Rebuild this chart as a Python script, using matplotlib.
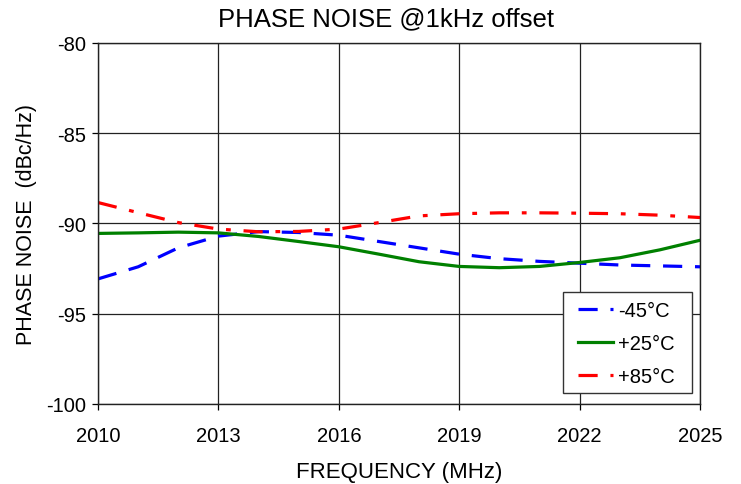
import matplotlib
matplotlib.use("Agg")
import matplotlib.pyplot as plt
from matplotlib.patches import Rectangle

plt.rcParams['font.family'] = ['Liberation Sans', 'DejaVu Sans']
plt.rcParams['axes.unicode_minus'] = False

freq = [2010, 2011, 2012, 2013, 2014, 2015, 2016, 2017, 2018, 2019, 2020, 2021, 2022, 2023, 2024, 2025]
pn_m45 = [-93.07, -92.4, -91.35, -90.7, -90.45, -90.5, -90.65, -91.0, -91.35, -91.7, -91.95, -92.1, -92.2, -92.3, -92.35, -92.4]
pn_p25 = [-90.55, -90.52, -90.48, -90.52, -90.72, -91.0, -91.29, -91.7, -92.12, -92.38, -92.45, -92.38, -92.16, -91.9, -91.46, -90.93]
pn_p85 = [-88.84, -89.4, -89.95, -90.31, -90.46, -90.44, -90.31, -89.95, -89.58, -89.46, -89.41, -89.41, -89.43, -89.46, -89.54, -89.67]
labels = ['-45°C', '+25°C', '+85°C']
xticks = [2010, 2013, 2016, 2019, 2022, 2025]
yticks = [-100, -95, -90, -85, -80]

fig = plt.figure(figsize=(7.41, 4.85), dpi=100)
ax = fig.add_axes([0.1323, 0.165, 0.8124, 0.7443])

ax.plot(freq, pn_m45, color='#0000ff', lw=2.3, dashes=(6, 4), label=labels[0])
ax.plot(freq, pn_p25, color='#008000', lw=2.3, label=labels[1])
ax.plot(freq, pn_p85, color='#ff0000', lw=2.3, dashes=(6, 4, 1.5, 4), label=labels[2])

ax.set_xlim(2010, 2025)
ax.set_ylim(-100, -80)
ax.set_xticks(xticks)
ax.set_yticks(yticks)
ax.grid(True, color='#222222', lw=0.9)
ax.set_axisbelow(True)
for s in ax.spines.values():
    s.set_color('#222222')
    s.set_linewidth(1)
ax.tick_params(direction='out', length=4.5, width=0.9, labelsize=14.5, colors='black')
ax.tick_params(axis='x', pad=11)
ax.tick_params(axis='y', pad=4)

ax.set_title('PHASE NOISE @1kHz offset', fontsize=18.5, pad=13, x=0.479)
ax.set_xlabel('FREQUENCY (MHz)', fontsize=16, labelpad=12)
ax.set_ylabel('PHASE NOISE  (dBc/Hz)', fontsize=15.5, labelpad=7)

# legend box frame
ax.add_patch(Rectangle((0.772, 0.0305), 0.215, 0.279, transform=ax.transAxes,
                       facecolor='white', edgecolor='#333333', lw=1, zorder=4,
                       clip_on=False))
leg = ax.legend(loc='lower right', bbox_to_anchor=(0.987, 0.002), borderaxespad=0,
                fontsize=14.5, frameon=False, handlelength=1.75, handletextpad=0.25,
                borderpad=0.85, labelspacing=0.7)
leg.set_zorder(5)

fig.savefig('out.png', dpi=100)
